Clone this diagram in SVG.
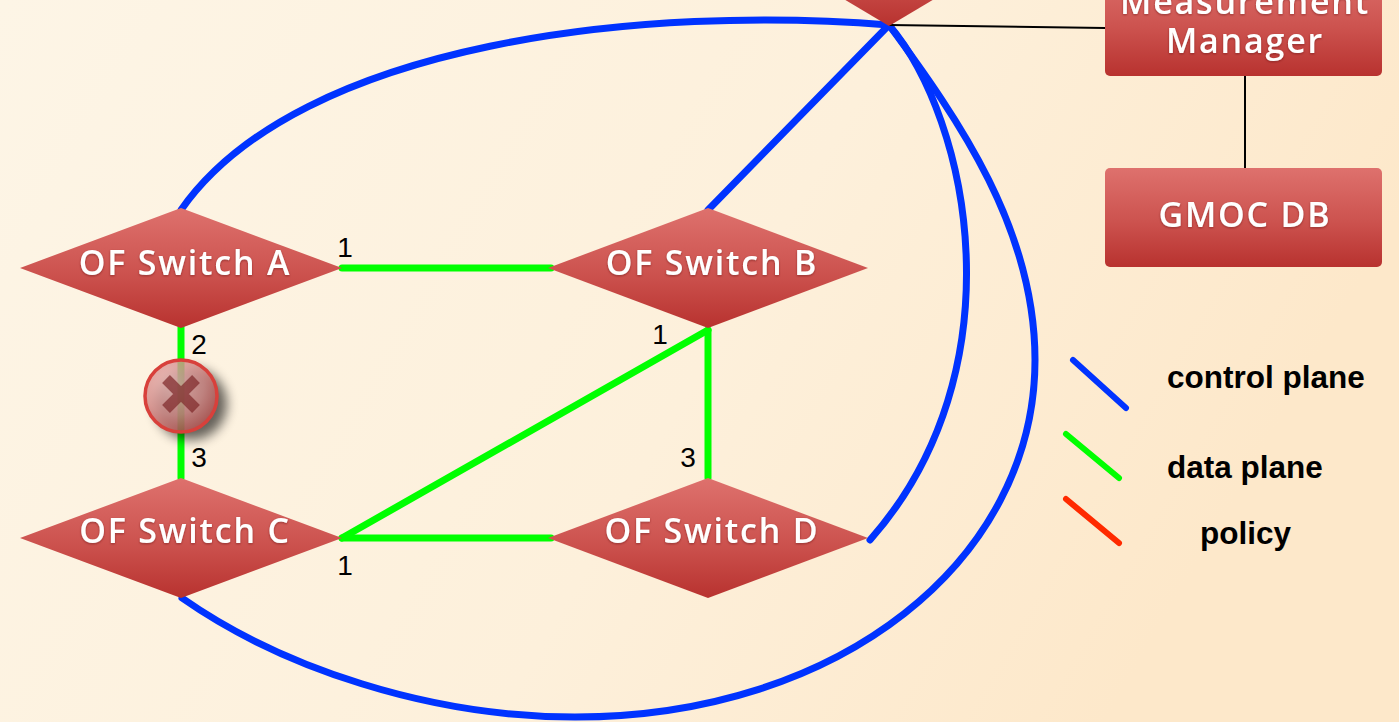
<svg xmlns="http://www.w3.org/2000/svg" width="1399" height="722" viewBox="0 0 1399 722">
  <defs>
    <linearGradient id="bg" x1="0" y1="0" x2="1" y2="0.3">
      <stop offset="0" stop-color="#fdf5e6"/>
      <stop offset="0.6" stop-color="#fdf0db"/>
      <stop offset="1" stop-color="#fde8ca"/>
    </linearGradient>
    <linearGradient id="red" x1="0" y1="0" x2="0" y2="1">
      <stop offset="0" stop-color="#de716d"/>
      <stop offset="0.55" stop-color="#cc524e"/>
      <stop offset="1" stop-color="#b8322f"/>
    </linearGradient>
    <radialGradient id="ball" cx="0.4" cy="0.35" r="0.7">
      <stop offset="0" stop-color="#efbcba"/>
      <stop offset="0.6" stop-color="#d58a88"/>
      <stop offset="1" stop-color="#b6514f"/>
    </radialGradient>
    <filter id="shadow" x="-50%" y="-50%" width="200%" height="200%">
      <feGaussianBlur stdDeviation="6"/>
    </filter>
    <filter id="tshadow" x="-10%" y="-20%" width="120%" height="140%">
      <feDropShadow dx="0" dy="1" stdDeviation="1" flood-color="#5a1010" flood-opacity="0.5"/>
    </filter>
    <style>
      .node { fill: url(#red); }
      .lbl { font-family: "Open Sans", "Noto Sans", sans-serif; font-size: 34px; font-weight: 600; fill: #ffffff; text-anchor: middle; letter-spacing: 1.8px; filter: url(#tshadow); }
      .ctl { fill: none; stroke: #0033ff; stroke-width: 7; stroke-linecap: round; }
      .data { fill: none; stroke: #00ff00; stroke-width: 7; stroke-linecap: round; }
      .mgmt { fill: none; stroke: #000000; stroke-width: 2; }
      .port { font-family: "Liberation Sans", Arial, sans-serif; font-size: 28px; fill: #000000; text-anchor: middle; }
      .leg { font-family: "Liberation Sans", Arial, sans-serif; font-size: 31.5px; font-weight: bold; fill: #000000; }
    </style>
  </defs>

  <rect x="0" y="0" width="1399" height="722" fill="url(#bg)"/>

  <g id="connectors">
    <!-- control plane -->
    <path class="ctl" d="M181,210 C300,40 650,5 889,25"/>
    <path class="ctl" d="M708,210 L889,25"/>
    <path class="ctl" d="M889,25 C970,120 1020,370 870,540"/>
    <path class="ctl" d="M889,25 C960,121 1035,230 1035,360 C1035,560 840,717 575,717 C430,717 282,668 182,598"/>
    <!-- data plane -->
    <path class="data" d="M342,268 L551,268"/>
    <path class="data" d="M181,327 L181,478"/>
    <path class="data" d="M342,538 L551,538"/>
    <path class="data" d="M342,538 L708,330"/>
    <path class="data" d="M708,330 L708,478"/>
    <!-- management -->
    <path class="mgmt" d="M889,25 L1105,28"/>
    <path class="mgmt" d="M1245,76 L1245,168"/>
  </g>

  <g id="controller">
    <polygon class="node" points="795,-30 889,26 983,-30 889,-86"/>
  </g>

  <g id="switch-a">
    <polygon class="node" points="20,268 181,208 342,268 181,328"/>
    <text class="lbl" x="185" y="275">OF Switch A</text>
  </g>
  <g id="switch-b">
    <polygon class="node" points="548,268 708,208 868,268 708,328"/>
    <text class="lbl" x="712" y="275">OF Switch B</text>
  </g>
  <g id="switch-c">
    <polygon class="node" points="20,538 181,478 342,538 181,598"/>
    <text class="lbl" x="185" y="543">OF Switch C</text>
  </g>
  <g id="switch-d">
    <polygon class="node" points="548,538 708,478 868,538 708,598"/>
    <text class="lbl" x="712" y="543">OF Switch D</text>
  </g>

  <g id="measurement-manager">
    <rect class="node" x="1105" y="-30" width="277" height="106" rx="5"/>
    <text class="lbl" x="1245" y="14">Measurement</text>
    <text class="lbl" x="1245" y="53">Manager</text>
  </g>
  <g id="gmoc-db">
    <rect class="node" x="1105" y="168" width="277" height="99" rx="5"/>
    <text class="lbl" x="1245" y="227">GMOC DB</text>
  </g>

  <g id="failure">
    <circle cx="191" cy="404" r="36" fill="#000" opacity="0.6" filter="url(#shadow)"/>
    <circle cx="181" cy="396" r="36" fill="url(#ball)" fill-opacity="0.8" stroke="#d8403b" stroke-width="3.5"/>
    <path d="M166,379 L196,409 M196,379 L166,409" stroke="#7e2628" stroke-width="11" stroke-opacity="0.7"/>
  </g>

  <g id="ports">
    <text class="port" x="345" y="257">1</text>
    <text class="port" x="199" y="354">2</text>
    <text class="port" x="199" y="467">3</text>
    <text class="port" x="345" y="575">1</text>
    <text class="port" x="660" y="344">1</text>
    <text class="port" x="688" y="467">3</text>
  </g>

  <g id="legend">
    <line x1="1073" y1="360" x2="1126" y2="408" stroke="#0033ff" stroke-width="6" stroke-linecap="round"/>
    <line x1="1066" y1="434" x2="1119" y2="478" stroke="#00ff00" stroke-width="6" stroke-linecap="round"/>
    <line x1="1066" y1="499" x2="1119" y2="543" stroke="#ff2a00" stroke-width="6" stroke-linecap="round"/>
    <text class="leg" x="1167" y="388">control plane</text>
    <text class="leg" x="1167" y="478">data plane</text>
    <text class="leg" x="1200" y="544">policy</text>
  </g>
</svg>
